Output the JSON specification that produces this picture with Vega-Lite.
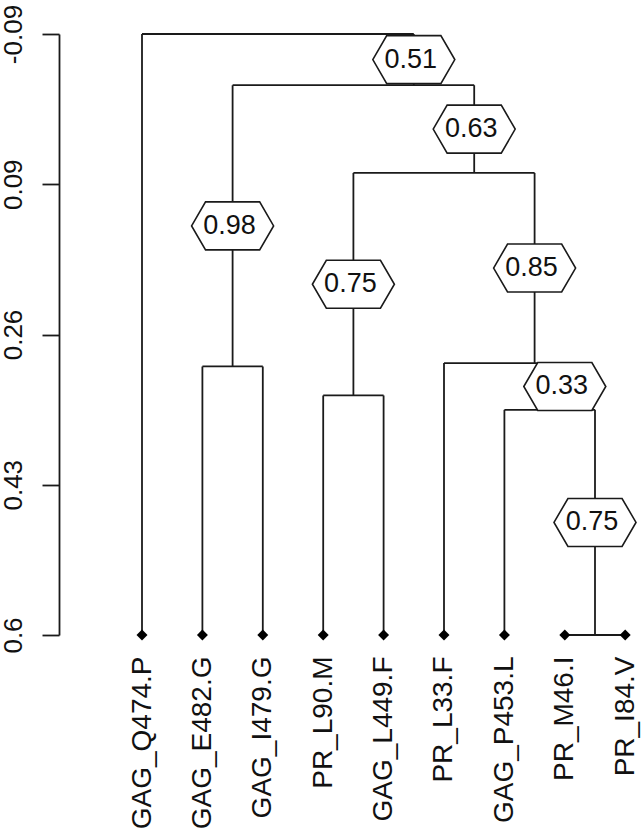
{
  "$schema": "https://vega.github.io/schema/vega-lite/v6.json",
  "autosize": "none",
  "width": 585,
  "height": 601,
  "padding": {"left": 59, "top": 34, "right": 0, "bottom": 199},
  "background": "white",
  "config": {
    "view": {"stroke": null},
    "font": "Liberation Sans",
    "axis": {"labelFont": "Liberation Sans", "labelColor": "#111", "grid": false}
  },
  "datasets": {
    "segments": [
      {"x": 0, "x2": 4.5, "y": -0.09, "y2": -0.09},
      {"x": 1.5, "x2": 5.5, "y": -0.0312, "y2": -0.0312},
      {"x": 3.5, "x2": 6.5, "y": 0.0695, "y2": 0.0695},
      {"x": 5, "x2": 7, "y": 0.2878, "y2": 0.2878},
      {"x": 6, "x2": 7.5, "y": 0.3415, "y2": 0.3415},
      {"x": 7, "x2": 8, "y": 0.6, "y2": 0.6},
      {"x": 1, "x2": 2, "y": 0.2917, "y2": 0.2917},
      {"x": 3, "x2": 4, "y": 0.325, "y2": 0.325},
      {"x": 0, "x2": 0, "y": -0.09, "y2": 0.6},
      {"x": 4.5, "x2": 4.5, "y": -0.09, "y2": -0.0312},
      {"x": 1.5, "x2": 1.5, "y": -0.0312, "y2": 0.2917},
      {"x": 5.5, "x2": 5.5, "y": -0.0312, "y2": 0.0695},
      {"x": 3.5, "x2": 3.5, "y": 0.0695, "y2": 0.325},
      {"x": 6.5, "x2": 6.5, "y": 0.0695, "y2": 0.2878},
      {"x": 5, "x2": 5, "y": 0.2878, "y2": 0.6},
      {"x": 7, "x2": 7, "y": 0.2878, "y2": 0.3415},
      {"x": 6, "x2": 6, "y": 0.3415, "y2": 0.6},
      {"x": 7.5, "x2": 7.5, "y": 0.3415, "y2": 0.6},
      {"x": 1, "x2": 1, "y": 0.2917, "y2": 0.6},
      {"x": 2, "x2": 2, "y": 0.2917, "y2": 0.6},
      {"x": 3, "x2": 3, "y": 0.325, "y2": 0.6},
      {"x": 4, "x2": 4, "y": 0.325, "y2": 0.6}
    ],
    "leaves": [
      {"x": 0, "y": 0.6, "name": "GAG_Q474.P"},
      {"x": 1, "y": 0.6, "name": "GAG_E482.G"},
      {"x": 2, "y": 0.6, "name": "GAG_I479.G"},
      {"x": 3, "y": 0.6, "name": "PR_L90.M"},
      {"x": 4, "y": 0.6, "name": "GAG_L449.F"},
      {"x": 5, "y": 0.6, "name": "PR_L33.F"},
      {"x": 6, "y": 0.6, "name": "GAG_P453.L"},
      {"x": 7, "y": 0.6, "name": "PR_M46.I"},
      {"x": 8, "y": 0.6, "name": "PR_I84.V"}
    ],
    "nodes": [
      {"x": 4.5, "y": -0.0606, "label": "0.51"},
      {"x": 1.5, "y": 0.1303, "label": "0.98"},
      {"x": 5.5, "y": 0.0192, "label": "0.63"},
      {"x": 3.5, "y": 0.1973, "label": "0.75"},
      {"x": 6.5, "y": 0.1787, "label": "0.85"},
      {"x": 7, "y": 0.3147, "label": "0.33"},
      {"x": 7.5, "y": 0.4708, "label": "0.75"}
    ]
  },
  "layer": [
    {
      "data": {"name": "segments"},
      "mark": {"type": "rule", "color": "#1a1a1a", "strokeWidth": 1.8},
      "encoding": {
        "x": {
          "field": "x", "type": "quantitative",
          "scale": {"domain": [-1.3742, 8.3113], "nice": false, "zero": false},
          "axis": {
            "values": [0, 1, 2, 3, 4, 5, 6, 7, 8],
            "labelExpr": "['GAG_Q474.P','GAG_E482.G','GAG_I479.G','PR_L90.M','GAG_L449.F','PR_L33.F','GAG_P453.L','PR_M46.I','PR_I84.V'][round(datum.value)]",
            "labelAngle": -90,
            "labelAlign": "right",
            "labelBaseline": "middle",
            "labelFontSize": 28,
            "labelPadding": 21,
            "labelOverlap": false,
            "labelBound": false,
            "labelFlush": false,
            "domain": false,
            "ticks": false,
            "title": null
          }
        },
        "x2": {"field": "x2"},
        "y": {
          "field": "y", "type": "quantitative",
          "scale": {"domain": [-0.09, 0.6], "reverse": true, "nice": false, "zero": false},
          "axis": {
            "values": [-0.09, 0.0825, 0.255, 0.4275, 0.6],
            "labelExpr": "['-0.09','0.09','0.26','0.43','0.6'][round((datum.value + 0.09) / 0.1725)]",
            "labelAngle": -90,
            "labelAlign": "center",
            "labelBaseline": "bottom",
            "labelFontSize": 26,
            "labelPadding": 16,
            "labelOverlap": false,
            "labelBound": false,
            "labelFlush": false,
            "tickSize": 17,
            "tickWidth": 1.8,
            "tickColor": "#1a1a1a",
            "domainWidth": 1.8,
            "domainColor": "#1a1a1a",
            "title": null
          }
        },
        "y2": {"field": "y2"}
      }
    },
    {
      "data": {"name": "leaves"},
      "mark": {"type": "point", "shape": "diamond", "filled": true, "size": 120, "color": "#000", "opacity": 1},
      "encoding": {
        "x": {"field": "x", "type": "quantitative"},
        "y": {"field": "y", "type": "quantitative"}
      }
    },
    {
      "data": {"name": "nodes"},
      "mark": {
        "type": "point",
        "shape": "M -1 0 L -0.66 -0.585 L 0.66 -0.585 L 1 0 L 0.66 0.585 L -0.66 0.585 Z",
        "size": 6724,
        "filled": true,
        "fill": "white",
        "stroke": "#1a1a1a",
        "strokeWidth": 1.6,
        "opacity": 1,
        "fillOpacity": 1
      },
      "encoding": {
        "x": {"field": "x", "type": "quantitative"},
        "y": {"field": "y", "type": "quantitative"}
      }
    },
    {
      "data": {"name": "nodes"},
      "mark": {"type": "text", "fontSize": 27, "color": "#111", "align": "center", "baseline": "middle", "dx": -3},
      "encoding": {
        "x": {"field": "x", "type": "quantitative"},
        "y": {"field": "y", "type": "quantitative"},
        "text": {"field": "label"}
      }
    }
  ]
}
